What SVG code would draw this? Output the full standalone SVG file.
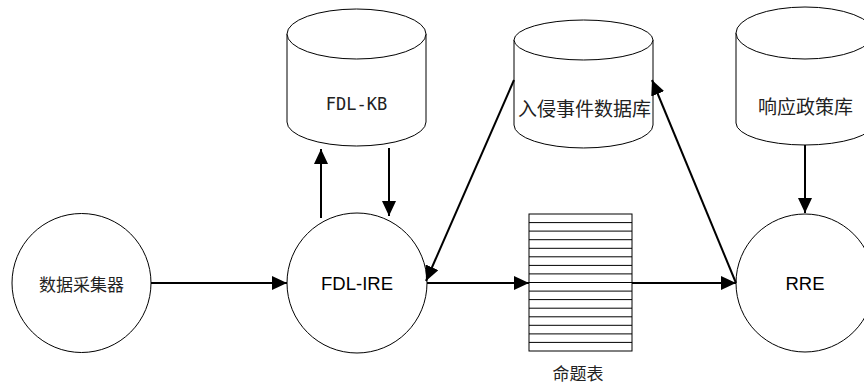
<svg xmlns="http://www.w3.org/2000/svg" width="864" height="385" viewBox="0 0 864 385">
<style>
.shape{fill:#fff;stroke:#000;stroke-width:1}
.conn{fill:none;stroke:#000;stroke-width:2;marker-end:url(#arr)}
.cjk{font-family:"Noto Sans CJK SC",sans-serif;fill:#222;text-anchor:middle;dominant-baseline:central}
.lat{font-family:"Liberation Sans",Arial,sans-serif;fill:#000;text-anchor:middle;font-size:18.5px}
.mono{font-family:"DejaVu Sans Mono","Liberation Mono",monospace;fill:#222;text-anchor:middle;font-size:17px}
.row{stroke:#000;stroke-width:1}
</style>
<defs>
<marker id="arr" markerUnits="userSpaceOnUse" markerWidth="15" markerHeight="14" refX="15" refY="7" orient="auto" viewBox="0 0 15 14">
<path d="M0,0 L15,7 L0,14 Z" fill="#000"/>
</marker>
</defs>
<rect width="864" height="385" fill="#fff"/>
<g id="collector">
<circle class="shape" cx="81.5" cy="283" r="69.5"/>
<text class="cjk" x="81.5" y="283" font-size="17">数据采集器</text>
</g>
<g id="fdl-ire">
<circle class="shape" cx="357" cy="283" r="70"/>
<text class="lat" x="357" y="289.5">FDL-IRE</text>
</g>
<g id="rre">
<circle class="shape" cx="805" cy="283" r="69"/>
<text class="lat" x="805" y="289.5">RRE</text>
</g>
<g id="fdl-kb">
<path class="shape" d="M287,34 A69.5,25 0 0 1 426,34 L426,122 A69.5,24 0 0 1 287,122 Z"/>
<path class="shape" fill="none" d="M287,34 A69.5,25 0 0 0 426,34"/>
<text class="mono" x="356.5" y="110">FDL-KB</text>
</g>
<g id="intrusion-db">
<path class="shape" d="M514,40 A69.5,20 0 0 1 653,40 L653,125 A69.5,23 0 0 1 514,125 Z"/>
<path class="shape" fill="none" d="M514,40 A69.5,20 0 0 0 653,40"/>
<text class="cjk" x="584.5" y="107" font-size="19">入侵事件数据库</text>
</g>
<g id="policy-db">
<path class="shape" d="M736,33 A69,26 0 0 1 874,33 L874,123 A69,22 0 0 1 736,123 Z"/>
<path class="shape" fill="none" d="M736,33 A69,26 0 0 0 874,33"/>
<text class="cjk" x="805.5" y="105" font-size="19">响应政策库</text>
</g>
<g id="prop-table">
<rect class="shape" x="529" y="214" width="103" height="137"/>
<g class="row">
<line x1="529" x2="632" y1="222.6" y2="222.6"/>
<line x1="529" x2="632" y1="231.1" y2="231.1"/>
<line x1="529" x2="632" y1="239.7" y2="239.7"/>
<line x1="529" x2="632" y1="248.3" y2="248.3"/>
<line x1="529" x2="632" y1="256.8" y2="256.8"/>
<line x1="529" x2="632" y1="265.4" y2="265.4"/>
<line x1="529" x2="632" y1="273.9" y2="273.9"/>
<line x1="529" x2="632" y1="282.5" y2="282.5"/>
<line x1="529" x2="632" y1="291.1" y2="291.1"/>
<line x1="529" x2="632" y1="299.6" y2="299.6"/>
<line x1="529" x2="632" y1="308.2" y2="308.2"/>
<line x1="529" x2="632" y1="316.8" y2="316.8"/>
<line x1="529" x2="632" y1="325.3" y2="325.3"/>
<line x1="529" x2="632" y1="333.9" y2="333.9"/>
<line x1="529" x2="632" y1="342.4" y2="342.4"/>
</g>
<text class="cjk" x="578" y="372" font-size="17">命题表</text>
</g>
<g id="connectors">
<line class="conn" x1="151" y1="283" x2="287" y2="283"/>
<line class="conn" x1="321" y1="218" x2="321" y2="149"/>
<line class="conn" x1="389" y1="148" x2="389" y2="216"/>
<line class="conn" x1="514" y1="80" x2="426" y2="281"/>
<line class="conn" x1="427" y1="283" x2="529" y2="283"/>
<line class="conn" x1="632" y1="283" x2="736" y2="283"/>
<line class="conn" x1="736" y1="283" x2="652" y2="80"/>
<line class="conn" x1="805" y1="145" x2="805" y2="213"/>
</g>
</svg>
